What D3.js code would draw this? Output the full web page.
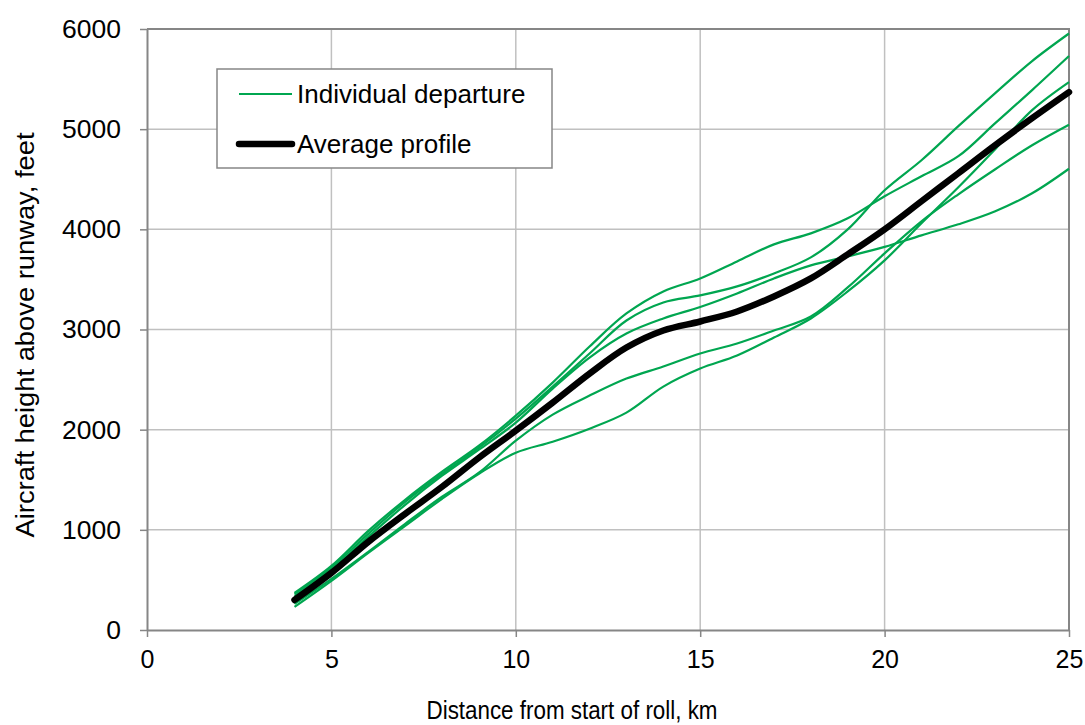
<!DOCTYPE html>
<html>
<head>
<style>
  body { margin: 0; background: #fff; }
  text { font-family: "Liberation Sans", Arial, sans-serif; fill: #000; }
</style>
</head>
<body>
<div id="chart"></div>
<script src="https://cdn.jsdelivr.net/npm/d3@7"></script>
<script>
// distance from start of roll, km
const distances = [4,5,6,7,8,9,10,11,12,13,14,15,16,17,18,19,20,21,22,23,24,25];

// height above runway, feet - one array per departure
const departure1 = [370,640,990,1300,1580,1840,2140,2470,2830,3160,3380,3510,3680,3850,3960,4110,4330,4530,4730,5060,5390,5730];
const departure2 = [360,620,960,1280,1560,1820,2110,2430,2760,3090,3270,3340,3430,3560,3720,4000,4390,4690,5030,5360,5680,5955];
const departure3 = [340,600,930,1250,1540,1800,2070,2410,2720,2960,3110,3225,3360,3510,3640,3730,3825,3940,4050,4180,4360,4605];
const departure4 = [260,510,780,1060,1330,1570,1890,2150,2340,2510,2630,2760,2860,2990,3130,3420,3760,4080,4350,4600,4840,5045];
const departure5 = [230,490,770,1040,1310,1560,1770,1880,2010,2170,2430,2610,2740,2920,3110,3380,3690,4060,4420,4800,5190,5470];
const averageProfile = [300,570,880,1160,1430,1720,1990,2270,2560,2820,2990,3080,3180,3330,3510,3750,4000,4280,4560,4840,5110,5370];

const xTicks = [0,5,10,15,20,25];
const yTicks = [0,1000,2000,3000,4000,5000,6000];
const legendLabels = ['Individual departure', 'Average profile'];

const width = 1085, height = 725;
const margin = { top: 29, right: 16, bottom: 95, left: 147 };
const gridColor = '#c0c0c0';
const axisColor = '#868686';
const green = '#00a650';

const svg = d3.select('#chart').append('svg')
  .attr('width', width)
  .attr('height', height);

const x = d3.scaleLinear().domain([0, 25]).range([margin.left, width - margin.right]);
const y = d3.scaleLinear().domain([0, 6000]).range([height - margin.bottom, margin.top]);

// gridlines
svg.append('g').selectAll('line.vx')
  .data(xTicks.slice(1))
  .enter().append('line')
  .attr('x1', d => x(d)).attr('x2', d => x(d))
  .attr('y1', y(0)).attr('y2', y(6000))
  .attr('stroke', gridColor).attr('stroke-width', 1.5);

svg.append('g').selectAll('line.hy')
  .data(yTicks.slice(1))
  .enter().append('line')
  .attr('x1', x(0)).attr('x2', x(25))
  .attr('y1', d => y(d)).attr('y2', d => y(d))
  .attr('stroke', gridColor).attr('stroke-width', 1.5);

// plot border (top / right)
svg.append('path')
  .attr('d', `M${x(0)},${y(6000)}H${x(25)}V${y(0)}`)
  .attr('fill', 'none')
  .attr('stroke', axisColor)
  .attr('stroke-width', 2);

// axes
const gx = svg.append('g').attr('transform', `translate(0,${y(0)})`);
gx.call(d3.axisBottom(x).tickValues(d3.range(0, 26, 1)).tickSize(5).tickSizeOuter(0).tickFormat(''));
gx.call(d3.axisBottom(x).tickValues(xTicks).tickSize(7).tickSizeOuter(0).tickPadding(13));

const gy = svg.append('g').attr('transform', `translate(${x(0)},0)`);
gy.call(d3.axisLeft(y).tickValues(d3.range(0, 6001, 500)).tickSize(6).tickSizeOuter(0).tickFormat(''));
gy.call(d3.axisLeft(y).tickValues(yTicks).tickSize(7).tickSizeOuter(0).tickPadding(19).tickFormat(d3.format('d')));

svg.selectAll('.domain').attr('stroke', axisColor).attr('stroke-width', 2);
svg.selectAll('.tick line').attr('stroke', axisColor).attr('stroke-width', 1.5);
svg.selectAll('.tick text').attr('font-size', 25).attr('font-family', '"Liberation Sans", Arial, sans-serif').attr('fill', '#000');
gy.selectAll('.tick text').attr('font-size', 26.5);

// axis titles
svg.append('text')
  .attr('x', 572)
  .attr('y', 719)
  .attr('text-anchor', 'middle')
  .attr('font-size', 25)
  .attr('textLength', 291)
  .attr('lengthAdjust', 'spacingAndGlyphs')
  .text('Distance from start of roll, km');

svg.append('text')
  .attr('transform', 'translate(34,335) rotate(-90)')
  .attr('text-anchor', 'middle')
  .attr('font-size', 26)
  .attr('textLength', 405)
  .attr('lengthAdjust', 'spacingAndGlyphs')
  .text('Aircraft height above runway, feet');

// lines
const line = d3.line()
  .x((d, i) => x(distances[i]))
  .y(d => y(d))
  .curve(d3.curveCatmullRom.alpha(0.5));

const departures = [departure1, departure2, departure3, departure4, departure5];

svg.append('g').selectAll('path')
  .data(departures)
  .enter().append('path')
  .attr('d', line)
  .attr('fill', 'none')
  .attr('stroke', green)
  .attr('stroke-width', 2.2);

svg.append('path')
  .attr('d', line(averageProfile))
  .attr('fill', 'none')
  .attr('stroke', '#000')
  .attr('stroke-width', 6.5)
  .attr('stroke-linecap', 'round');

// legend
const legend = svg.append('g');
legend.append('rect')
  .attr('x', 217).attr('y', 69)
  .attr('width', 335).attr('height', 99)
  .attr('fill', '#fff')
  .attr('stroke', axisColor)
  .attr('stroke-width', 1.5);

legend.append('line')
  .attr('x1', 239).attr('x2', 292).attr('y1', 94).attr('y2', 94)
  .attr('stroke', green).attr('stroke-width', 2.2);
legend.append('line')
  .attr('x1', 239).attr('x2', 292).attr('y1', 144).attr('y2', 144)
  .attr('stroke', '#000').attr('stroke-width', 6.5).attr('stroke-linecap', 'round');

legend.selectAll('text')
  .data(legendLabels)
  .enter().append('text')
  .attr('x', 297)
  .attr('y', (d, i) => 103 + i * 50)
  .attr('font-size', 26)
  .text(d => d);
</script>
</body>
</html>
